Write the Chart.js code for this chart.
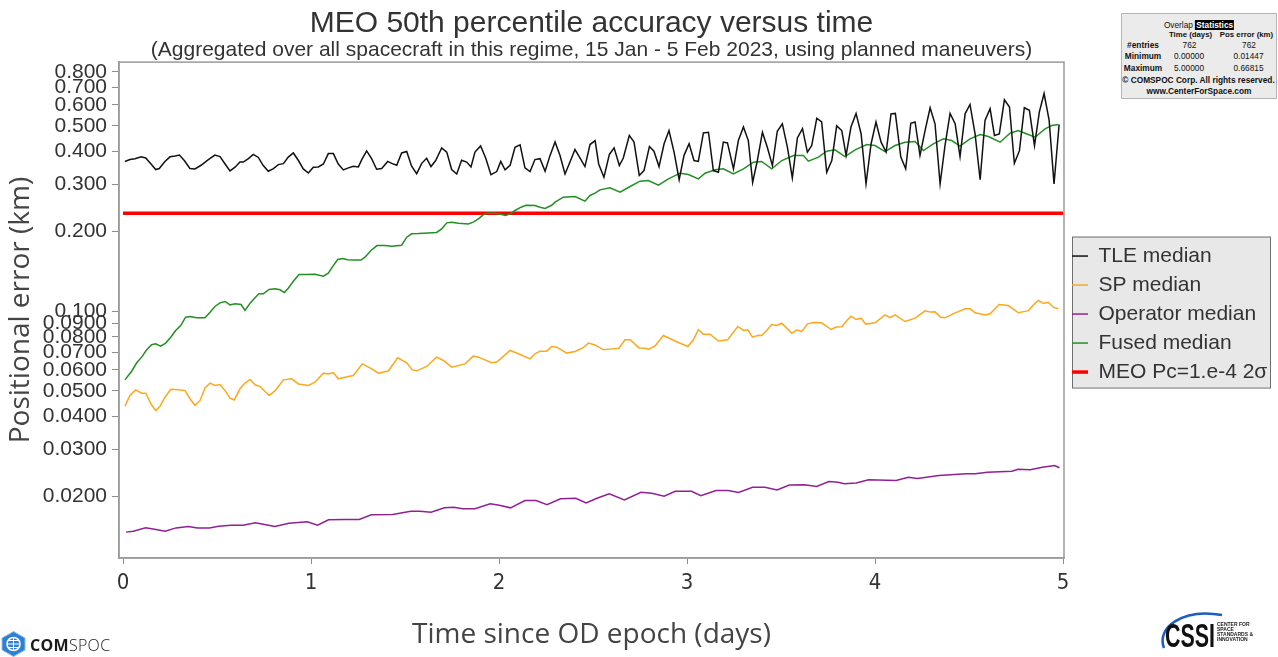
<!DOCTYPE html>
<html lang="en">

<head>
    <meta charset="UTF-8">
    <title>MEO 50th percentile accuracy versus time</title>
    <style>
        body { margin: 0; background: #fff; }
        #wrap { position: relative; width: 1278px; height: 657px; overflow: hidden; }
        #cvs { position: absolute; left: 0; top: 0; }
        #stats { position: absolute; left: 1121px; top: 13px; width: 154px; height: 84px; background: #ebebeb; border: 1px solid #b5b5b5;
                 font-family: "Liberation Sans", Arial, sans-serif; font-size: 8.3px; color: #111; }
        #stats span { position: absolute; white-space: nowrap; line-height: 10px; transform: translate(-50%, -50%); }
        #stats .b { font-weight: bold; }
        #stats .h { font-weight: bold; font-size: 7.8px; }
        #stats .hl { background: #000; color: #fff; font-weight: bold; padding: 0 1px; }
        #comspoc { position: absolute; left: 1px; top: 631px; }
        #comspoc-text { position: absolute; left: 30px; top: 637px; font-family: "Open Sans", sans-serif; font-size: 16px; line-height: 16px; color: #1a1a1a; letter-spacing: 0.3px; }
        #cssi { position: absolute; left: 1160px; top: 606px; }
    </style>
</head>

<body>
    <div id="wrap">
        <canvas id="cvs" width="1278" height="657"></canvas>

        <div id="stats">
            <span style="left:77px;top:10.5px">Overlap <span class="hl" style="position:static;transform:none">Statistics</span></span>
            <span class="h" style="left:68.5px;top:20.5px">Time (days)</span>
            <span class="h" style="left:124.5px;top:20.5px">Pos error (km)</span>
            <span class="b" style="left:21px;top:31px">#entries</span>
            <span style="left:67.5px;top:31px">762</span>
            <span style="left:127px;top:31px">762</span>
            <span class="b" style="left:21px;top:42px">Minimum</span>
            <span style="left:67px;top:42px">0.00000</span>
            <span style="left:126.5px;top:42px">0.01447</span>
            <span class="b" style="left:21px;top:53.5px">Maximum</span>
            <span style="left:67px;top:53.5px">5.00000</span>
            <span style="left:126.5px;top:53.5px">0.66815</span>
            <span class="b" style="left:76.5px;top:65.5px">© COMSPOC Corp. All rights reserved.</span>
            <span class="b" style="left:77px;top:76.5px">www.CenterForSpace.com</span>
        </div>

        <svg id="comspoc" width="26" height="26">
            <polygon points="12.5,0.5 24,7 24,19 12.5,25.5 1,19 1,7" fill="#2f7fd3" stroke="#8fc0ee" stroke-width="1" />
            <circle cx="12.5" cy="13" r="6.5" fill="none" stroke="#fff" stroke-width="1.6" />
            <path d="M6 13h13M12.5 6.5v13M8 9.5h9M8 16.5h9" stroke="#fff" stroke-width="1" fill="none" />
        </svg>
        <div id="comspoc-text"><b>COM</b><span style="font-weight:300">SPOC</span></div>

        <svg id="cssi" width="100" height="50">
            <path d="M4 42 C -4 22, 22 2, 62 9" fill="none" stroke="#1d5cc0" stroke-width="2.5" />
            <text x="5" y="41" font-family="Liberation Sans Narrow, Liberation Sans, sans-serif" font-weight="bold" font-size="33"
                  textLength="50" lengthAdjust="spacingAndGlyphs" fill="#111">CSSI</text>
            <g font-family="Liberation Sans Narrow, Liberation Sans, sans-serif" font-weight="bold" font-size="5" fill="#222">
                <text x="57" y="20">CENTER FOR</text>
                <text x="57" y="25">SPACE</text>
                <text x="57" y="30">STANDARDS &amp;</text>
                <text x="57" y="35">INNOVATION</text>
            </g>
        </svg>
    </div>

    <script src="https://cdn.jsdelivr.net/npm/chart.js@4.4.0/dist/chart.umd.min.js"></script>

    <script>
        // days since OD epoch / median positional error in km
        const tleDays = [
            0.010, 0.037, 0.064, 0.096, 0.121, 0.149, 0.174, 0.193, 0.223, 0.250,
            0.277, 0.300, 0.326, 0.356, 0.383, 0.415, 0.454, 0.489, 0.516, 0.543,
            0.569, 0.596, 0.622, 0.640, 0.667, 0.693, 0.720, 0.746, 0.773, 0.800,
            0.826, 0.853, 0.879, 0.906, 0.933, 0.959, 0.986, 1.012, 1.039, 1.066,
            1.092, 1.119, 1.145, 1.172, 1.199, 1.225, 1.252, 1.270, 1.296, 1.323,
            1.349, 1.376, 1.408, 1.429, 1.456, 1.482, 1.509, 1.535, 1.562, 1.589,
            1.615, 1.638, 1.663, 1.695, 1.722, 1.748, 1.775, 1.801, 1.828, 1.851,
            1.872, 1.902, 1.929, 1.957, 1.988, 2.009, 2.032, 2.059, 2.085, 2.112,
            2.138, 2.165, 2.191, 2.218, 2.245, 2.271, 2.298, 2.324, 2.351, 2.378,
            2.404, 2.431, 2.457, 2.484, 2.511,
            2.530, 2.558, 2.587, 2.612, 2.640, 2.661, 2.693, 2.718, 2.746, 2.771,
            2.800, 2.824, 2.851, 2.878, 2.904, 2.931, 2.958, 2.984, 3.011, 3.037,
            3.060, 3.087, 3.114, 3.140, 3.167, 3.193, 3.215, 3.247, 3.273, 3.300,
            3.326, 3.349, 3.374, 3.401, 3.427, 3.454, 3.480, 3.507, 3.534, 3.560,
            3.587, 3.614, 3.640, 3.663, 3.690, 3.716, 3.743, 3.770, 3.796, 3.823,
            3.846, 3.872, 3.899, 3.926, 3.952, 3.979, 4.005, 4.032, 4.059, 4.085,
            4.108, 4.137, 4.163, 4.190, 4.213, 4.239, 4.266, 4.293, 4.319, 4.346,
            4.372, 4.399, 4.426, 4.452, 4.479, 4.505, 4.532, 4.559, 4.585, 4.612,
            4.635, 4.661, 4.688, 4.715, 4.741, 4.768, 4.794, 4.821, 4.848, 4.874,
            4.899, 4.926, 4.952, 4.979
        ];
        const tleKm = [
            0.367, 0.373, 0.376, 0.382, 0.378, 0.359, 0.342, 0.345, 0.367, 0.382,
            0.385, 0.388, 0.370, 0.345, 0.344, 0.355, 0.373, 0.388, 0.383, 0.359,
            0.338, 0.349, 0.365, 0.365, 0.376, 0.390, 0.380, 0.354, 0.337, 0.345,
            0.357, 0.360, 0.381, 0.395, 0.370, 0.344, 0.332, 0.349, 0.350, 0.359,
            0.393, 0.393, 0.359, 0.341, 0.347, 0.352, 0.350, 0.373, 0.402, 0.375,
            0.343, 0.345, 0.367, 0.361, 0.355, 0.395, 0.400, 0.352, 0.330, 0.361,
            0.377, 0.351, 0.370, 0.413, 0.398, 0.342, 0.329, 0.371, 0.365, 0.350,
            0.398, 0.420, 0.378, 0.327, 0.336, 0.367, 0.341, 0.355, 0.415, 0.424,
            0.347, 0.336, 0.373, 0.376, 0.337, 0.386, 0.435, 0.387, 0.329, 0.366,
            0.407, 0.378, 0.351, 0.425, 0.440,
            0.359, 0.320, 0.390, 0.413, 0.354, 0.378, 0.460, 0.434, 0.325, 0.339,
            0.418, 0.401, 0.351, 0.428, 0.480, 0.398, 0.313, 0.387, 0.428, 0.370,
            0.367, 0.470, 0.473, 0.339, 0.334, 0.434, 0.431, 0.344, 0.440, 0.495,
            0.440, 0.306, 0.370, 0.473, 0.415, 0.354, 0.477, 0.509, 0.415, 0.318,
            0.450, 0.488, 0.398, 0.421, 0.534, 0.517, 0.334, 0.370, 0.500, 0.480,
            0.387, 0.495, 0.557, 0.466, 0.302, 0.428, 0.517, 0.434, 0.398, 0.555,
            0.557, 0.381, 0.344, 0.511, 0.517, 0.387, 0.480, 0.585, 0.509, 0.302,
            0.421, 0.557, 0.509, 0.383, 0.555, 0.602, 0.466, 0.313, 0.524, 0.580,
            0.460, 0.466, 0.627, 0.589, 0.361, 0.403, 0.585, 0.572, 0.421, 0.565,
            0.662, 0.524, 0.302, 0.506
        ];

        const spDays = [
            0.010, 0.037, 0.067, 0.099, 0.121, 0.149, 0.174, 0.197, 0.223, 0.254,
            0.294, 0.330, 0.356, 0.383, 0.410, 0.436, 0.463, 0.489, 0.516, 0.543,
            0.569, 0.592, 0.622, 0.649, 0.676, 0.702, 0.729, 0.777, 0.809, 0.853,
            0.897, 0.933, 0.986, 1.021, 1.066, 1.092, 1.119, 1.145, 1.199, 1.225,
            1.273, 1.323, 1.358, 1.411, 1.461, 1.509, 1.539, 1.562, 1.615, 1.668,
            1.704, 1.748, 1.819, 1.863, 1.890, 1.961, 1.988, 2.059, 2.103, 2.165,
            2.191, 2.218, 2.254, 2.280, 2.307, 2.360, 2.404, 2.449, 2.475, 2.511,
            2.555, 2.599, 2.638, 2.670, 2.697, 2.745, 2.777, 2.798, 2.830, 2.874,
            2.936, 3.004, 3.034, 3.060, 3.087, 3.122, 3.167, 3.216, 3.270, 3.300,
            3.323, 3.348, 3.379, 3.397, 3.424, 3.450, 3.477, 3.504, 3.557, 3.584,
            3.610, 3.641, 3.672, 3.716, 3.766, 3.793, 3.823, 3.850, 3.872, 3.899,
            3.926, 3.950, 4.000, 4.053, 4.080, 4.106, 4.160, 4.213, 4.266, 4.293,
            4.319, 4.349, 4.372, 4.426, 4.479, 4.505, 4.532, 4.585, 4.612, 4.660,
            4.709, 4.762, 4.816, 4.848, 4.869, 4.895, 4.922, 4.949, 4.975
        ];
        const spKm = [
            0.0438, 0.0480, 0.0504, 0.0490, 0.0490, 0.0446, 0.0421, 0.0437, 0.0473, 0.0507,
            0.0505, 0.0501, 0.0467, 0.0441, 0.0460, 0.0513, 0.0535, 0.0524, 0.0528, 0.0501,
            0.0469, 0.0462, 0.0509, 0.0535, 0.0552, 0.0527, 0.0519, 0.0480, 0.0501, 0.0550,
            0.0555, 0.0531, 0.0524, 0.0539, 0.0583, 0.0579, 0.0586, 0.0555, 0.0566, 0.0571,
            0.0632, 0.0605, 0.0583, 0.0594, 0.0666, 0.0638, 0.0600, 0.0595, 0.0618, 0.0670,
            0.0651, 0.0614, 0.0632, 0.0676, 0.0670, 0.0638, 0.0642, 0.0710, 0.0690, 0.0660,
            0.0690, 0.0706, 0.0706, 0.0735, 0.0731, 0.0694, 0.0704, 0.0729, 0.0757, 0.0745,
            0.0714, 0.0720, 0.0724, 0.0779, 0.0779, 0.0726, 0.0724, 0.0718, 0.0739, 0.0809,
            0.0771, 0.0735, 0.0779, 0.0850, 0.0818, 0.0818, 0.0771, 0.0779, 0.0875, 0.0845,
            0.0850, 0.0797, 0.0811, 0.0809, 0.0845, 0.0890, 0.0882, 0.0900, 0.0824, 0.0850,
            0.0836, 0.0895, 0.0906, 0.0903, 0.0852, 0.0870, 0.0872, 0.0921, 0.0956, 0.0929,
            0.0940, 0.0893, 0.0903, 0.0967, 0.0945, 0.0967, 0.0913, 0.0940, 0.1002, 0.0991,
            0.0993, 0.0947, 0.0943, 0.0985, 0.1020, 0.1020, 0.0985, 0.0967, 0.0977, 0.1058,
            0.1049, 0.0985, 0.1004, 0.1065, 0.1096, 0.1070, 0.1077, 0.1032, 0.1020
        ];

        const opDays = [
            0.016, 0.055, 0.120, 0.168, 0.224, 0.282, 0.347, 0.396, 0.460, 0.509,
            0.574, 0.639, 0.704, 0.753, 0.808, 0.882, 0.980, 1.035, 1.093, 1.174,
            1.256, 1.321, 1.434, 1.531, 1.580, 1.638, 1.710, 1.759, 1.807, 1.872,
            1.953, 2.002, 2.061, 2.138, 2.197, 2.255, 2.327, 2.408, 2.463, 2.521,
            2.586, 2.667, 2.755, 2.813, 2.878, 2.937, 3.024, 3.073, 3.154, 3.219,
            3.274, 3.349, 3.414, 3.479, 3.544, 3.625, 3.689, 3.754, 3.803, 3.836,
            3.900, 3.966, 4.112, 4.177, 4.225, 4.274, 4.339, 4.485, 4.533, 4.598,
            4.728, 4.761, 4.826, 4.890, 4.955, 4.981
        ];
        const opKm = [
            0.01465, 0.01477, 0.01520, 0.01503, 0.01477, 0.01520, 0.01538, 0.01520, 0.01520, 0.01542,
            0.01556, 0.01556, 0.01588, 0.01565, 0.01538, 0.01583, 0.01602, 0.01556, 0.01630, 0.01635,
            0.01635, 0.01702, 0.01707, 0.01757, 0.01757, 0.01743, 0.01809, 0.01818, 0.01795, 0.01795,
            0.01873, 0.01849, 0.01809, 0.01928, 0.01928, 0.01858, 0.01956, 0.01967, 0.01888, 0.01967,
            0.02042, 0.01939, 0.02072, 0.02054, 0.02001, 0.02090, 0.02090, 0.02012, 0.02102, 0.02102,
            0.02066, 0.02164, 0.02164, 0.02114, 0.02204, 0.02210, 0.02177, 0.02274, 0.02260, 0.02230,
            0.02243, 0.02307, 0.02294, 0.02361, 0.02334, 0.02361, 0.02395, 0.02431, 0.02431, 0.02466,
            0.02487, 0.02531, 0.02517, 0.02576, 0.02613, 0.02562
        ];

        const fusedDays = [
            0.010, 0.046, 0.073, 0.099, 0.126, 0.152, 0.174, 0.200, 0.227, 0.254,
            0.280, 0.307, 0.333, 0.356, 0.392, 0.436, 0.463, 0.489, 0.516, 0.543,
            0.569, 0.596, 0.628, 0.649, 0.676, 0.702, 0.723, 0.746, 0.777, 0.809,
            0.835, 0.858, 0.879, 0.906, 0.936, 0.968, 1.021, 1.066, 1.092, 1.113,
            1.142, 1.168, 1.195, 1.234, 1.266, 1.287, 1.319, 1.351, 1.394, 1.429,
            1.482, 1.509, 1.535, 1.571, 1.624, 1.668, 1.695, 1.722, 1.748, 1.784,
            1.837, 1.863, 1.890, 1.917, 1.943, 1.979, 2.014, 2.035, 2.059, 2.085,
            2.117, 2.144, 2.191, 2.218, 2.245, 2.280, 2.298, 2.342, 2.404, 2.457,
            2.484, 2.511, 2.537, 2.590, 2.644, 2.697, 2.750, 2.794, 2.848, 2.901,
            2.963, 3.007, 3.060, 3.096, 3.149, 3.193, 3.247, 3.300, 3.353, 3.397,
            3.450, 3.504, 3.566, 3.619, 3.645, 3.699, 3.743, 3.787, 3.840, 3.894,
            3.956, 4.000, 4.053, 4.106, 4.160, 4.213, 4.257, 4.310, 4.364, 4.408,
            4.452, 4.505, 4.559, 4.603, 4.665, 4.718, 4.762, 4.798, 4.851, 4.904,
            4.940, 4.975
        ];
        const fusedKm = [
            0.0550, 0.0593, 0.0638, 0.0670, 0.0714, 0.0746, 0.0752, 0.0737, 0.0757, 0.0797,
            0.0845, 0.0882, 0.0948, 0.0954, 0.0943, 0.0943, 0.0990, 0.1041, 0.1074, 0.1087,
            0.1055, 0.1065, 0.1059, 0.1005, 0.1071, 0.1122, 0.1162, 0.1162, 0.1206, 0.1213,
            0.1203, 0.1175, 0.1220, 0.1296, 0.1373, 0.1373, 0.1377, 0.1354, 0.1390, 0.1465,
            0.1565, 0.1579, 0.1561, 0.1557, 0.1557, 0.1597, 0.1692, 0.1767, 0.1767, 0.1757,
            0.1772, 0.1900, 0.1957, 0.1960, 0.1970, 0.1980, 0.2043, 0.2152, 0.2165, 0.2146,
            0.2133, 0.2165, 0.2228, 0.2313, 0.2346, 0.2340, 0.2313, 0.2294, 0.2327, 0.2396,
            0.2466, 0.2508, 0.2502, 0.2466, 0.2439, 0.2508, 0.2576, 0.2689, 0.2705, 0.2599,
            0.2730, 0.2785, 0.2867, 0.2917, 0.2810, 0.2951, 0.3091, 0.3110, 0.2986, 0.3155,
            0.3314, 0.3276, 0.3155, 0.3314, 0.3411, 0.3441, 0.3295, 0.3441, 0.3646, 0.3668,
            0.3441, 0.3699, 0.3863, 0.3863, 0.3678, 0.3808, 0.4012, 0.4058, 0.3830, 0.4058,
            0.4251, 0.4214, 0.4000, 0.4214, 0.4338, 0.4363, 0.4035, 0.4276, 0.4465, 0.4401,
            0.4190, 0.4465, 0.4637, 0.4556, 0.4338, 0.4690, 0.4801, 0.4690, 0.4530, 0.4870,
            0.5014, 0.5058
        ];

        // MEO Pc=1e-4 2-sigma threshold
        const thresholdDays = [0, 5];
        const thresholdKm = [0.234, 0.234];

        const yTickValues = [0.02, 0.03, 0.04, 0.05, 0.06, 0.07, 0.08, 0.09, 0.1, 0.2, 0.3, 0.4, 0.5, 0.6, 0.7, 0.8];
        const xTickValues = [0, 1, 2, 3, 4, 5];

        function pairs(xs, ys) {
            const n = Math.min(xs.length, ys.length);
            const out = [];
            for (let i = 0; i < n; i++) out.push({ x: xs[i], y: ys[i] });
            return out;
        }

        function line(label, xs, ys, color, width) {
            return {
                label: label,
                data: pairs(xs, ys),
                borderColor: color,
                backgroundColor: color,
                borderWidth: width,
                pointRadius: 0,
                tension: 0,
                fill: false
            };
        }

        // plot frame + grey legend panel
        const LEGEND_SHIFT = 4;
        const framePlugin = {
            id: 'frame',
            afterUpdate(chart) {
                const lg = chart.legend;
                if (!lg) return;
                lg.top += LEGEND_SHIFT;
                lg.bottom += LEGEND_SHIFT;
                (lg.legendHitBoxes || []).forEach(h => { h.top += LEGEND_SHIFT; });
            },
            beforeDraw(chart) {
                const ctx = chart.ctx;
                const hb = chart.legend && chart.legend.legendHitBoxes;
                if (!hb || !hb.length) return;
                const top = hb[0].top - 9;
                const bottom = hb[hb.length - 1].top + hb[hb.length - 1].height + 5;
                const left = 1072;
                ctx.save();
                ctx.fillStyle = '#e8e8e8';
                ctx.fillRect(left, top, 1270 - left, bottom - top);
                ctx.strokeStyle = '#6e6e6e';
                ctx.lineWidth = 1;
                ctx.strokeRect(left + 0.5, top + 0.5, 1270 - left, bottom - top);
                ctx.restore();
            },
            afterDraw(chart) {
                const a = chart.chartArea;
                const ctx = chart.ctx;
                ctx.save();
                ctx.strokeStyle = '#9a9a9a';
                ctx.lineWidth = 1.5;
                ctx.strokeRect(a.left, a.top, a.right - a.left, a.bottom - a.top);
                ctx.restore();
            }
        };

        Chart.defaults.font.family = "'Liberation Sans', Arial, sans-serif";

        const ctx = document.getElementById('cvs').getContext('2d');
        const myChart = new Chart(ctx, {
            type: 'line',
            data: {
                datasets: [
                    line('TLE median', tleDays, tleKm, '#111111', 1.5),
                    line('SP median', spDays, spKm, '#ffa81c', 1.5),
                    line('Operator median', opDays, opKm, '#931f95', 1.5),
                    line('Fused median', fusedDays, fusedKm, '#229022', 1.5),
                    line('MEO Pc=1.e-4 2\u03c3', thresholdDays, thresholdKm, '#ff0000', 3.5)
                ]
            },
            options: {
                responsive: false,
                animation: false,
                devicePixelRatio: 1,
                layout: { padding: { left: 0, right: 2, top: 0, bottom: 0 } },
                scales: {
                    x: {
                        type: 'linear',
                        min: -0.0213,
                        max: 5.005,
                        afterBuildTicks: s => { s.ticks = xTickValues.map(v => ({ value: v })); },
                        afterFit: s => { s.height = 99; },
                        ticks: {
                            color: '#333',
                            font: { family: "'Liberation Sans Narrow', 'DejaVu Sans Condensed', sans-serif", size: 22 },
                            padding: 6,
                            maxRotation: 0
                        },
                        grid: { drawOnChartArea: false, tickLength: 6, color: '#8c8c8c' },
                        border: { display: true, color: '#9a9a9a', width: 1.5 },
                        title: {
                            display: true,
                            text: 'Time since OD epoch (days)',
                            font: { family: "'Open Sans', sans-serif", size: 28 },
                            color: '#444',
                            padding: { top: 0, bottom: 5 }
                        }
                    },
                    y: {
                        type: 'logarithmic',
                        min: 0.0117,
                        max: 0.87,
                        afterBuildTicks: s => { s.ticks = yTickValues.map(v => ({ value: v })); },
                        afterFit: s => { s.width = 119; },
                        ticks: {
                            autoSkip: false,
                            color: '#333',
                            font: { size: 21 },
                            padding: 5,
                            callback: v => v >= 0.1 ? v.toFixed(3) : v.toFixed(4)
                        },
                        grid: { drawOnChartArea: false, tickLength: 7, color: '#8c8c8c' },
                        border: { display: true, color: '#9a9a9a', width: 1.5 },
                        title: {
                            display: true,
                            text: 'Positional error (km)',
                            font: { family: "'Open Sans', sans-serif", size: 28 },
                            color: '#444',
                            padding: { top: 4, bottom: 0 }
                        }
                    }
                },
                plugins: {
                    title: {
                        display: true,
                        fullSize: false,
                        text: 'MEO 50th percentile accuracy versus time',
                        font: { size: 30, weight: 'normal', lineHeight: 1.0 },
                        color: '#333',
                        padding: { top: 9, bottom: 0 }
                    },
                    subtitle: {
                        display: true,
                        fullSize: false,
                        text: '(Aggregated over all spacecraft in this regime, 15 Jan - 5 Feb 2023, using planned maneuvers)',
                        font: { size: 21, lineHeight: 1.1 },
                        color: '#333',
                        padding: { top: 0, bottom: 0 }
                    },
                    legend: {
                        position: 'right',
                        fullSize: false,
                        maxWidth: 212,
                        labels: {
                            usePointStyle: true,
                            pointStyle: 'line',
                            pointStyleWidth: 16,
                            color: '#333',
                            font: { size: 21 },
                            padding: 8
                        }
                    },
                    tooltip: { enabled: false }
                }
            },
            plugins: [framePlugin]
        });
    </script>
</body>

</html>
